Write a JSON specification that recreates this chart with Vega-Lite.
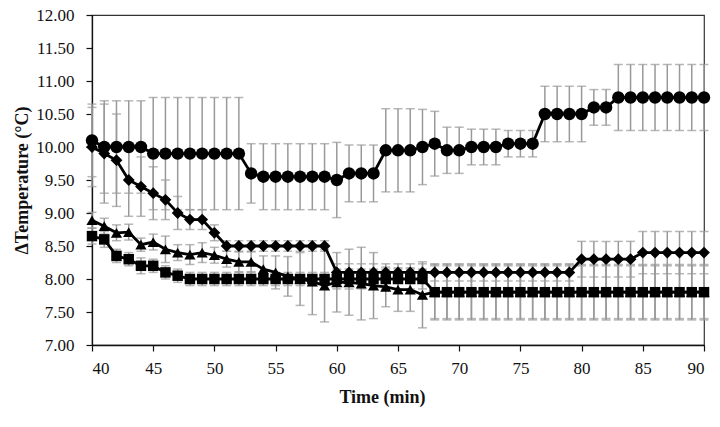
{
  "$schema": "https://vega.github.io/schema/vega-lite/v6.json",
  "width": 612,
  "height": 330,
  "autosize": "none",
  "padding": {"left": 92, "top": 15, "right": 16, "bottom": 82},
  "background": "white",
  "config": {
    "view": {"stroke": "#333", "strokeWidth": 1.2},
    "axis": {
      "labelFont": "Liberation Serif",
      "titleFont": "Liberation Serif",
      "labelFontSize": 17,
      "titleFontSize": 18,
      "titleFontWeight": "bold",
      "labelColor": "#111",
      "titleColor": "#111",
      "domainColor": "#111",
      "tickColor": "#111",
      "domainWidth": 1.3,
      "tickWidth": 1.2,
      "tickSize": 6,
      "grid": false
    }
  },
  "data": {
    "values": [
      {"s":"A","t":40,"v":10.10,"e":0.55},{"s":"A","t":41,"v":10.00,"e":0.70},{"s":"A","t":42,"v":10.00,"e":0.70},{"s":"A","t":43,"v":10.00,"e":0.70},{"s":"A","t":44,"v":10.00,"e":0.70},
      {"s":"A","t":45,"v":9.90,"e":0.85},{"s":"A","t":46,"v":9.90,"e":0.85},{"s":"A","t":47,"v":9.90,"e":0.85},{"s":"A","t":48,"v":9.90,"e":0.85},{"s":"A","t":49,"v":9.90,"e":0.85},
      {"s":"A","t":50,"v":9.90,"e":0.85},{"s":"A","t":51,"v":9.90,"e":0.85},{"s":"A","t":52,"v":9.90,"e":0.85},{"s":"A","t":53,"v":9.60,"e":0.45},{"s":"A","t":54,"v":9.55,"e":0.50},
      {"s":"A","t":55,"v":9.55,"e":0.50},{"s":"A","t":56,"v":9.55,"e":0.50},{"s":"A","t":57,"v":9.55,"e":0.50},{"s":"A","t":58,"v":9.55,"e":0.50},{"s":"A","t":59,"v":9.55,"e":0.50},
      {"s":"A","t":60,"v":9.50,"e":0.57},{"s":"A","t":61,"v":9.60,"e":0.43},{"s":"A","t":62,"v":9.60,"e":0.43},{"s":"A","t":63,"v":9.60,"e":0.43},{"s":"A","t":64,"v":9.95,"e":0.63},
      {"s":"A","t":65,"v":9.95,"e":0.63},{"s":"A","t":66,"v":9.95,"e":0.63},{"s":"A","t":67,"v":10.00,"e":0.57},{"s":"A","t":68,"v":10.05,"e":0.49},{"s":"A","t":69,"v":9.95,"e":0.35},
      {"s":"A","t":70,"v":9.95,"e":0.35},{"s":"A","t":71,"v":10.00,"e":0.27},{"s":"A","t":72,"v":10.00,"e":0.27},{"s":"A","t":73,"v":10.00,"e":0.27},{"s":"A","t":74,"v":10.05,"e":0.20},
      {"s":"A","t":75,"v":10.05,"e":0.20},{"s":"A","t":76,"v":10.05,"e":0.20},{"s":"A","t":77,"v":10.50,"e":0.42},{"s":"A","t":78,"v":10.50,"e":0.42},{"s":"A","t":79,"v":10.50,"e":0.42},
      {"s":"A","t":80,"v":10.50,"e":0.42},{"s":"A","t":81,"v":10.60,"e":0.27},{"s":"A","t":82,"v":10.60,"e":0.27},{"s":"A","t":83,"v":10.75,"e":0.50},{"s":"A","t":84,"v":10.75,"e":0.50},
      {"s":"A","t":85,"v":10.75,"e":0.50},{"s":"A","t":86,"v":10.75,"e":0.50},{"s":"A","t":87,"v":10.75,"e":0.50},{"s":"A","t":88,"v":10.75,"e":0.50},{"s":"A","t":89,"v":10.75,"e":0.50},
      {"s":"A","t":90,"v":10.75,"e":0.50},

      {"s":"B","t":40,"v":10.00,"e":0.60},{"s":"B","t":41,"v":9.90,"e":0.75},{"s":"B","t":42,"v":9.80,"e":0.70},{"s":"B","t":43,"v":9.50,"e":0.55},{"s":"B","t":44,"v":9.40,"e":0.45},
      {"s":"B","t":45,"v":9.30,"e":0.40},{"s":"B","t":46,"v":9.20,"e":0.30},{"s":"B","t":47,"v":9.00,"e":0.25},{"s":"B","t":48,"v":8.90,"e":0.15},{"s":"B","t":49,"v":8.90,"e":0.15},
      {"s":"B","t":50,"v":8.70,"e":0.12},{"s":"B","t":51,"v":8.50,"e":0.08},{"s":"B","t":52,"v":8.50,"e":0.08},{"s":"B","t":53,"v":8.50,"e":0.08},{"s":"B","t":54,"v":8.50,"e":0.08},
      {"s":"B","t":55,"v":8.50,"e":0.08},{"s":"B","t":56,"v":8.50,"e":0.08},{"s":"B","t":57,"v":8.50,"e":0.08},{"s":"B","t":58,"v":8.50,"e":0.08},{"s":"B","t":59,"v":8.50,"e":0.08},
      {"s":"B","t":60,"v":8.10,"e":0.13},{"s":"B","t":61,"v":8.10,"e":0.13},{"s":"B","t":62,"v":8.10,"e":0.13},{"s":"B","t":63,"v":8.10,"e":0.13},{"s":"B","t":64,"v":8.10,"e":0.13},
      {"s":"B","t":65,"v":8.10,"e":0.13},{"s":"B","t":66,"v":8.10,"e":0.13},{"s":"B","t":67,"v":8.10,"e":0.13},{"s":"B","t":68,"v":8.10,"e":0.13},{"s":"B","t":69,"v":8.10,"e":0.13},
      {"s":"B","t":70,"v":8.10,"e":0.13},{"s":"B","t":71,"v":8.10,"e":0.13},{"s":"B","t":72,"v":8.10,"e":0.13},{"s":"B","t":73,"v":8.10,"e":0.13},{"s":"B","t":74,"v":8.10,"e":0.13},
      {"s":"B","t":75,"v":8.10,"e":0.13},{"s":"B","t":76,"v":8.10,"e":0.13},{"s":"B","t":77,"v":8.10,"e":0.13},{"s":"B","t":78,"v":8.10,"e":0.13},{"s":"B","t":79,"v":8.10,"e":0.13},
      {"s":"B","t":80,"v":8.30,"e":0.27},{"s":"B","t":81,"v":8.30,"e":0.27},{"s":"B","t":82,"v":8.30,"e":0.27},{"s":"B","t":83,"v":8.30,"e":0.27},{"s":"B","t":84,"v":8.30,"e":0.27},
      {"s":"B","t":85,"v":8.40,"e":0.32},{"s":"B","t":86,"v":8.40,"e":0.32},{"s":"B","t":87,"v":8.40,"e":0.32},{"s":"B","t":88,"v":8.40,"e":0.32},{"s":"B","t":89,"v":8.40,"e":0.32},
      {"s":"B","t":90,"v":8.40,"e":0.32},

      {"s":"C","t":40,"v":8.89,"e":0.12},{"s":"C","t":41,"v":8.80,"e":0.12},{"s":"C","t":42,"v":8.70,"e":0.12},{"s":"C","t":43,"v":8.71,"e":0.12},{"s":"C","t":44,"v":8.52,"e":0.10},
      {"s":"C","t":45,"v":8.56,"e":0.12},{"s":"C","t":46,"v":8.45,"e":0.20},{"s":"C","t":47,"v":8.40,"e":0.12},{"s":"C","t":48,"v":8.37,"e":0.15},{"s":"C","t":49,"v":8.40,"e":0.15},
      {"s":"C","t":50,"v":8.36,"e":0.12},{"s":"C","t":51,"v":8.30,"e":0.12},{"s":"C","t":52,"v":8.26,"e":0.15},{"s":"C","t":53,"v":8.26,"e":0.15},{"s":"C","t":54,"v":8.15,"e":0.20},
      {"s":"C","t":55,"v":8.10,"e":0.25},{"s":"C","t":56,"v":8.04,"e":0.30},{"s":"C","t":57,"v":8.00,"e":0.40},{"s":"C","t":58,"v":7.96,"e":0.50},{"s":"C","t":59,"v":7.90,"e":0.55},
      {"s":"C","t":60,"v":7.95,"e":0.45},{"s":"C","t":61,"v":7.95,"e":0.50},{"s":"C","t":62,"v":7.93,"e":0.55},{"s":"C","t":63,"v":7.90,"e":0.50},{"s":"C","t":64,"v":7.88,"e":0.30},
      {"s":"C","t":65,"v":7.84,"e":0.33},{"s":"C","t":66,"v":7.84,"e":0.33},{"s":"C","t":67,"v":7.76,"e":0.50},{"s":"C","t":68,"v":7.80,"e":0.40},{"s":"C","t":69,"v":7.80,"e":0.40},
      {"s":"C","t":70,"v":7.80,"e":0.40},{"s":"C","t":71,"v":7.80,"e":0.40},{"s":"C","t":72,"v":7.80,"e":0.40},{"s":"C","t":73,"v":7.80,"e":0.40},{"s":"C","t":74,"v":7.80,"e":0.40},
      {"s":"C","t":75,"v":7.80,"e":0.40},{"s":"C","t":76,"v":7.80,"e":0.40},{"s":"C","t":77,"v":7.80,"e":0.40},{"s":"C","t":78,"v":7.80,"e":0.40},{"s":"C","t":79,"v":7.80,"e":0.40},
      {"s":"C","t":80,"v":7.80,"e":0.40},{"s":"C","t":81,"v":7.80,"e":0.40},{"s":"C","t":82,"v":7.80,"e":0.40},{"s":"C","t":83,"v":7.80,"e":0.40},{"s":"C","t":84,"v":7.80,"e":0.40},
      {"s":"C","t":85,"v":7.80,"e":0.40},{"s":"C","t":86,"v":7.80,"e":0.40},{"s":"C","t":87,"v":7.80,"e":0.40},{"s":"C","t":88,"v":7.80,"e":0.40},{"s":"C","t":89,"v":7.80,"e":0.40},
      {"s":"C","t":90,"v":7.80,"e":0.40},

      {"s":"D","t":40,"v":8.65,"e":0.12},{"s":"D","t":41,"v":8.60,"e":0.12},{"s":"D","t":42,"v":8.35,"e":0.10},{"s":"D","t":43,"v":8.30,"e":0.10},{"s":"D","t":44,"v":8.20,"e":0.12},
      {"s":"D","t":45,"v":8.20,"e":0.10},{"s":"D","t":46,"v":8.10,"e":0.10},{"s":"D","t":47,"v":8.05,"e":0.10},{"s":"D","t":48,"v":8.00,"e":0.10},{"s":"D","t":49,"v":8.00,"e":0.10},
      {"s":"D","t":50,"v":8.00,"e":0.10},{"s":"D","t":51,"v":8.00,"e":0.10},{"s":"D","t":52,"v":8.00,"e":0.10},{"s":"D","t":53,"v":8.00,"e":0.10},{"s":"D","t":54,"v":8.00,"e":0.10},
      {"s":"D","t":55,"v":8.00,"e":0.10},{"s":"D","t":56,"v":8.00,"e":0.10},{"s":"D","t":57,"v":8.00,"e":0.10},{"s":"D","t":58,"v":8.00,"e":0.10},{"s":"D","t":59,"v":8.00,"e":0.10},
      {"s":"D","t":60,"v":8.00,"e":0.15},{"s":"D","t":61,"v":8.00,"e":0.15},{"s":"D","t":62,"v":8.00,"e":0.15},{"s":"D","t":63,"v":8.00,"e":0.15},{"s":"D","t":64,"v":8.00,"e":0.15},
      {"s":"D","t":65,"v":8.00,"e":0.15},{"s":"D","t":66,"v":8.00,"e":0.15},{"s":"D","t":67,"v":8.00,"e":0.15},{"s":"D","t":68,"v":7.80,"e":0.42},{"s":"D","t":69,"v":7.80,"e":0.42},
      {"s":"D","t":70,"v":7.80,"e":0.42},{"s":"D","t":71,"v":7.80,"e":0.42},{"s":"D","t":72,"v":7.80,"e":0.42},{"s":"D","t":73,"v":7.80,"e":0.42},{"s":"D","t":74,"v":7.80,"e":0.42},
      {"s":"D","t":75,"v":7.80,"e":0.42},{"s":"D","t":76,"v":7.80,"e":0.42},{"s":"D","t":77,"v":7.80,"e":0.42},{"s":"D","t":78,"v":7.80,"e":0.42},{"s":"D","t":79,"v":7.80,"e":0.42},
      {"s":"D","t":80,"v":7.80,"e":0.42},{"s":"D","t":81,"v":7.80,"e":0.42},{"s":"D","t":82,"v":7.80,"e":0.42},{"s":"D","t":83,"v":7.80,"e":0.42},{"s":"D","t":84,"v":7.80,"e":0.42},
      {"s":"D","t":85,"v":7.80,"e":0.42},{"s":"D","t":86,"v":7.80,"e":0.42},{"s":"D","t":87,"v":7.80,"e":0.42},{"s":"D","t":88,"v":7.80,"e":0.42},{"s":"D","t":89,"v":7.80,"e":0.42},
      {"s":"D","t":90,"v":7.80,"e":0.42}
    ]
  },
  "encoding": {
    "x": {
      "field": "t", "type": "quantitative",
      "scale": {"domain": [40, 90], "nice": false, "zero": false},
      "axis": {"title": "Time (min)", "values": [40,45,50,55,60,65,70,75,80,85,90], "labelPadding": 9, "titlePadding": 12, "titleX": 290}
    },
    "y": {
      "field": "v", "type": "quantitative",
      "scale": {"domain": [7, 12], "nice": false, "zero": false},
      "axis": {"title": "ΔTemperature (°C)", "values": [7,7.5,8,8.5,9,9.5,10,10.5,11,11.5,12], "format": ".2f", "labelPadding": 12, "titlePadding": 4}
    }
  },
  "layer": [
    {
      "mark": {"type": "errorbar", "ticks": true, "color": "#999999", "thickness": 1.5, "size": 9},
      "encoding": {
        "yError": {"field": "e"},
        "detail": {"field": "s"}
      }
    },
    {
      "mark": {"type": "line", "color": "black", "strokeWidth": 2.8},
      "encoding": {
        "detail": {"field": "s"}
      }
    },
    {
      "mark": {"type": "point", "filled": true, "opacity": 1, "color": "black"},
      "encoding": {
        "shape": {"field": "s", "type": "nominal", "scale": {"domain": ["A","B","C","D"], "range": ["circle","diamond","triangle-up","square"]}, "legend": null},
        "size": {"field": "s", "type": "nominal", "scale": {"domain": ["A","B","C","D"], "range": [155, 110, 140, 125]}, "legend": null}
      }
    }
  ]
}
